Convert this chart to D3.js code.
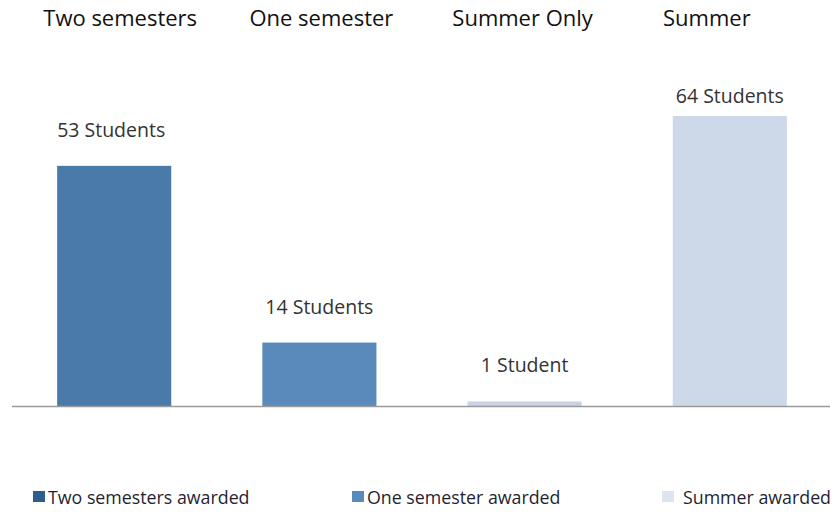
<!DOCTYPE html>
<html>
<head>
<meta charset="utf-8">
<script src="https://cdn.jsdelivr.net/npm/d3@7"></script>
<style>
  body { margin: 0; background: #fff; }
  svg { display: block; }
</style>
</head>
<body>
<svg id="chart" width="834" height="513"></svg>
<script>
// data
const categories = ["Two semesters", "One semester", "Summer Only", "Summer"];
const students = [53, 14, 1, 64];
const valueLabels = ["53 Students", "14 Students", "1 Student", "64 Students"];
const barColors = ["#4a7aa9", "#5a8abc", "#c8d2e3", "#cdd8e8"];
const legendLabels = ["Two semesters awarded", "One semester awarded", "Summer awarded"];
const legendColors = ["#2f5e8e", "#5a8abc", "#dde4ef"];

const svg = d3.select("#chart");
const baseY = 406;

const x = d3.scaleBand()
  .domain(categories)
  .range([12, 832])
  .paddingInner(0.444)
  .paddingOuter(0.22);

const y = d3.scaleLinear()
  .domain([0, 64])
  .range([baseY, 116]);

// bars
svg.selectAll("rect.bar")
  .data(categories)
  .enter()
  .append("rect")
  .attr("class", "bar")
  .attr("x", d => x(d))
  .attr("width", x.bandwidth())
  .attr("y", (d, i) => y(students[i]))
  .attr("height", (d, i) => baseY - y(students[i]))
  .attr("fill", (d, i) => barColors[i]);

// axis line
svg.append("line")
  .attr("x1", 12).attr("x2", 830)
  .attr("y1", baseY + 0.5).attr("y2", baseY + 0.5)
  .attr("stroke", "#9a9a9a")
  .attr("stroke-width", 1.5);

// category titles on top (not quite centred over the bars in the original)
const titleShift = [6, 2, -2, -23];
svg.selectAll("text.cat")
  .data(categories)
  .enter()
  .append("text")
  .attr("class", "cat")
  .attr("x", (d, i) => x(d) + x.bandwidth() / 2 + titleShift[i])
  .attr("y", 26)
  .attr("text-anchor", "middle")
  .style("font-family", "'Open Sans', sans-serif")
  .style("font-size", "22px")
  .attr("fill", "#111")
  .text(d => d);

// value labels
svg.selectAll("text.val")
  .data(categories)
  .enter()
  .append("text")
  .attr("class", "val")
  .attr("x", (d, i) => x(d) + x.bandwidth() / 2 + (i === 0 ? -3 : 0))
  .attr("y", (d, i) => Math.max(y(students[i]) - 29, 103))
  .attr("text-anchor", "middle")
  .style("font-family", "'Open Sans', sans-serif")
  .style("font-size", "19.5px")
  .attr("fill", "#333")
  .text((d, i) => valueLabels[i]);

// legend
const legendX = [33, 352, 662];
const lg = svg.selectAll("g.leg")
  .data(legendLabels)
  .enter()
  .append("g")
  .attr("class", "leg")
  .attr("transform", (d, i) => `translate(${legendX[i]},491)`);

lg.append("rect")
  .attr("width", 12).attr("height", 11)
  .attr("fill", (d, i) => legendColors[i]);

lg.append("text")
  .attr("x", (d, i) => i === 2 ? 21 : 15)
  .attr("y", 13)
  .style("font-family", "'Open Sans', sans-serif")
  .style("font-size", "17.8px")
  .attr("fill", "#1f1f33")
  .text(d => d);
</script>
</body>
</html>
